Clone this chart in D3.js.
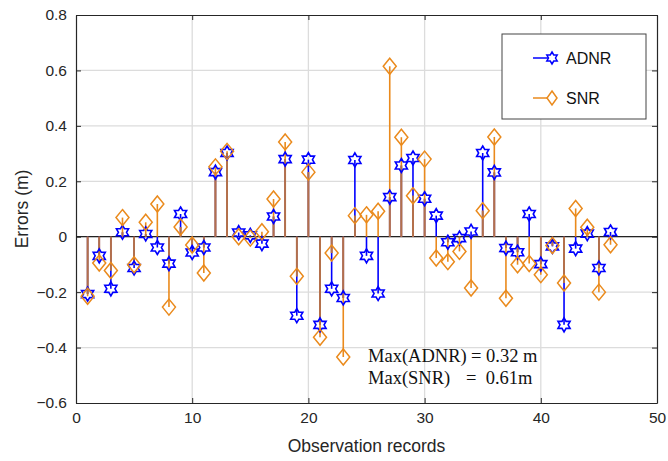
<!DOCTYPE html>
<html><head><meta charset="utf-8">
<script src="https://cdn.jsdelivr.net/npm/d3@7"></script>
<style>body{margin:0;background:#fff;} svg{display:block;}</style>
</head><body>
<svg id="c" width="668" height="461"></svg>
<script>
const records = d3.range(1, 47);
const adnr = [-0.207,-0.069,-0.188,0.016,-0.113,0.010,-0.039,-0.097,0.082,-0.057,
  -0.039,0.233,0.302,0.015,0.005,-0.025,0.073,0.280,-0.285,0.278,
  -0.318,-0.188,-0.221,0.277,-0.069,-0.205,0.143,0.257,0.284,0.137,
  0.076,-0.020,-0.005,0.019,0.302,0.232,-0.041,-0.056,0.082,-0.099,
  -0.035,-0.318,-0.043,0.011,-0.113,0.017];
const snr = [-0.215,-0.095,-0.122,0.069,-0.101,0.052,0.118,-0.254,0.035,-0.030,
  -0.131,0.252,0.308,0.000,-0.005,0.018,0.136,0.342,-0.143,0.233,
  -0.363,-0.059,-0.434,0.076,0.079,0.092,0.615,0.359,0.148,0.280,
  -0.077,-0.090,-0.053,-0.185,0.094,0.360,-0.222,-0.101,-0.097,-0.137,
  -0.032,-0.167,0.102,0.034,-0.200,-0.029];
const xTicks = [0,10,20,30,40,50];
const yTicks = [-0.6,-0.4,-0.2,0,0.2,0.4,0.6,0.8];
const seriesNames = ["ADNR","SNR"];
const annotLeft = ["Max(ADNR)", "Max(SNR)"];
const annotRight = ["= 0.32 m", "=  0.61m"];

const blue = "#0000ff", orange = "#ea8a1c", brown = "#b2704c", axisCol = "#262626";
const svg = d3.select("#c");
const L = 76, R = 657, T = 15, B = 403;
const x = d3.scaleLinear().domain([0,50]).range([L,R]);
const y = d3.scaleLinear().domain([-0.6,0.8]).range([B,T]);

// grid
const g = svg.append("g");
g.selectAll(".gx").data(xTicks.slice(1,-1)).join("line")
  .attr("x1",d=>x(d)).attr("x2",d=>x(d)).attr("y1",T).attr("y2",B)
  .attr("stroke","#dcdcdc").attr("stroke-width",1.3);
g.selectAll(".gy").data(yTicks.slice(1,-1)).join("line")
  .attr("x1",L).attr("x2",R).attr("y1",d=>y(d)).attr("y2",d=>y(d))
  .attr("stroke","#dcdcdc").attr("stroke-width",1.3);

// axes
const fontAx = "'Liberation Sans', Arial, sans-serif";
const ax = svg.append("g").attr("transform",`translate(0,${B})`)
  .call(d3.axisBottom(x).tickValues(xTicks).tickSizeInner(-5).tickSizeOuter(0).tickPadding(9));
const ay = svg.append("g").attr("transform",`translate(${L},0)`)
  .call(d3.axisLeft(y).tickValues(yTicks).tickFormat(d=>d===0?"0":d3.format(".1f")(d)).tickSizeInner(-5).tickSizeOuter(0).tickPadding(9));
const axt = svg.append("g").attr("transform",`translate(0,${T})`)
  .call(d3.axisTop(x).tickValues(xTicks).tickSizeInner(-5).tickSizeOuter(0).tickFormat(""));
const ayr = svg.append("g").attr("transform",`translate(${R},0)`)
  .call(d3.axisRight(y).tickValues(yTicks).tickSizeInner(-5).tickSizeOuter(0).tickFormat(""));
[ax,ay,axt,ayr].forEach(a=>{
  a.selectAll("path").attr("stroke",axisCol).attr("stroke-width",1.2);
  a.selectAll("line").attr("stroke",axisCol).attr("stroke-width",1);
  a.selectAll("text").attr("fill",axisCol).style("font-family",fontAx).style("font-size","15.5px");
});

// zero baseline
svg.append("line").attr("x1",L).attr("x2",R).attr("y1",y(0)).attr("y2",y(0))
  .attr("stroke","#222").attr("stroke-width",1.2);

const data = records.map((r,i)=>({r, a:adnr[i], s:snr[i]}));
// stems
svg.append("g").selectAll("line").data(data).join("line")
  .attr("x1",d=>x(d.r)).attr("x2",d=>x(d.r)).attr("y1",y(0)).attr("y2",d=>y(d.a))
  .attr("stroke",blue).attr("stroke-width",1.6);
svg.append("g").selectAll("line").data(data).join("line")
  .attr("x1",d=>x(d.r)).attr("x2",d=>x(d.r)).attr("y1",y(0)).attr("y2",d=>y(d.s))
  .attr("stroke",orange).attr("stroke-width",1.6);
svg.append("g").selectAll("line").data(data.filter(d=>d.a*d.s>0)).join("line")
  .attr("x1",d=>x(d.r)).attr("x2",d=>x(d.r)).attr("y1",y(0))
  .attr("y2",d=>y(Math.sign(d.a)*Math.min(Math.abs(d.a),Math.abs(d.s))))
  .attr("stroke",brown).attr("stroke-width",1.8);

// markers
function hexagram(r){
  const pts=[];
  for(let k=0;k<12;k++){
    const ang = -Math.PI/2 + k*Math.PI/6;
    const rad = k%2===0 ? r : r*0.58;
    pts.push([rad*Math.cos(ang), rad*Math.sin(ang)]);
  }
  return "M"+pts.map(p=>p.join(",")).join("L")+"Z";
}
const diamond = "M0,-8L6.5,0L0,8L-6.5,0Z";
svg.append("g").selectAll("path").data(data).join("path")
  .attr("transform",d=>`translate(${x(d.r)},${y(d.a)})`)
  .attr("d",hexagram(7)).attr("fill","none").attr("stroke",blue).attr("stroke-width",1.6);
svg.append("g").selectAll("path").data(data).join("path")
  .attr("transform",d=>`translate(${x(d.r)},${y(d.s)})`)
  .attr("d",diamond).attr("fill","none").attr("stroke",orange).attr("stroke-width",1.5);

// axis titles
svg.append("text").attr("x",(L+R)/2).attr("y",452).attr("text-anchor","middle")
  .attr("fill",axisCol).style("font-family",fontAx).style("font-size","17.5px").text("Observation records");
svg.append("text").attr("transform",`translate(28,${(T+B)/2}) rotate(-90)`).attr("text-anchor","middle")
  .attr("fill",axisCol).style("font-family",fontAx).style("font-size","17.5px").text("Errors (m)");

// legend
const lg = svg.append("g");
lg.append("rect").attr("x",502).attr("y",34).attr("width",144).attr("height",85)
  .attr("fill","#fff").attr("stroke","#444").attr("stroke-width",1);
const cols=[blue,orange];
seriesNames.forEach((n,i)=>{
  const yy = 58 + i*40;
  lg.append("line").attr("x1",533).attr("x2",555).attr("y1",yy).attr("y2",yy).attr("stroke",cols[i]).attr("stroke-width",1.5);
  lg.append("path").attr("transform",`translate(552,${yy})`).attr("d",i===0?hexagram(6):"M0,-7L5,0L0,7L-5,0Z")
    .attr("fill","#fff").attr("stroke",cols[i]).attr("stroke-width",1.5);
  lg.append("text").attr("x",566).attr("y",yy+5.5).attr("fill","#111")
    .style("font-family",fontAx).style("font-size","16px").text(n);
});

// annotations
annotLeft.forEach((t,i)=>{
  const tx = svg.append("text").attr("y",362+i*22).attr("fill","#111")
    .style("font-family","'Liberation Serif','Times New Roman',serif").style("font-size","18.5px")
    .attr("xml:space","preserve").style("white-space","pre");
  tx.append("tspan").attr("x",368).text(t);
  tx.append("tspan").attr("x",i===0?471:466).text(annotRight[i]);
});
</script>
</body></html>
